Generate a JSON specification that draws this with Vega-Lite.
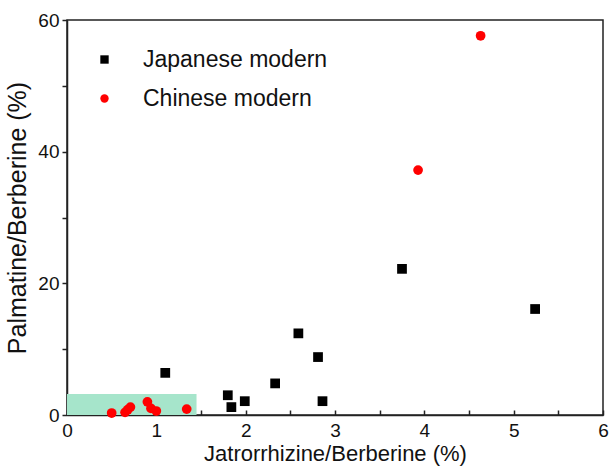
{
  "$schema": "https://vega.github.io/schema/vega-lite/v6.json",
  "width": 536,
  "height": 395,
  "autosize": {"type": "none"},
  "padding": {"left": 67, "top": 20, "right": 8, "bottom": 52},
  "background": "white",
  "config": {
    "font": "Liberation Sans",
    "view": {"stroke": "#222", "strokeWidth": 1.5},
    "axis": {"grid": false, "domainColor": "#222", "domainWidth": 1.5, "tickColor": "#222", "tickWidth": 1.5, "labelColor": "#111", "titleColor": "#111", "labelFontSize": 19, "titleFontSize": 22, "titleFontWeight": "normal", "labelFont": "Liberation Sans", "titleFont": "Liberation Sans"}
  },
  "datasets": {
    "pts": [
      {"jat": 1.10, "pal": 6.4, "group": "Japanese modern"},
      {"jat": 1.80, "pal": 3.0, "group": "Japanese modern"},
      {"jat": 1.84, "pal": 1.2, "group": "Japanese modern"},
      {"jat": 1.99, "pal": 2.1, "group": "Japanese modern"},
      {"jat": 2.33, "pal": 4.8, "group": "Japanese modern"},
      {"jat": 2.59, "pal": 12.4, "group": "Japanese modern"},
      {"jat": 2.81, "pal": 8.8, "group": "Japanese modern"},
      {"jat": 2.86, "pal": 2.1, "group": "Japanese modern"},
      {"jat": 3.75, "pal": 22.2, "group": "Japanese modern"},
      {"jat": 5.24, "pal": 16.1, "group": "Japanese modern"},
      {"jat": 0.50, "pal": 0.3, "group": "Chinese modern"},
      {"jat": 0.65, "pal": 0.4, "group": "Chinese modern"},
      {"jat": 0.68, "pal": 0.8, "group": "Chinese modern"},
      {"jat": 0.71, "pal": 1.2, "group": "Chinese modern"},
      {"jat": 0.90, "pal": 2.0, "group": "Chinese modern"},
      {"jat": 0.94, "pal": 1.0, "group": "Chinese modern"},
      {"jat": 1.00, "pal": 0.6, "group": "Chinese modern"},
      {"jat": 1.34, "pal": 0.9, "group": "Chinese modern"},
      {"jat": 3.93, "pal": 37.2, "group": "Chinese modern"},
      {"jat": 4.63, "pal": 57.6, "group": "Chinese modern"}
    ],
    "zone": [{"x0": 0, "x1": 1.45, "y0": 0, "y1": 3.2}]
  },
  "layer": [
    {
      "data": {"name": "zone"},
      "mark": {"type": "rect", "color": "#a6e5cb"},
      "encoding": {
        "x": {"field": "x0", "type": "quantitative"},
        "x2": {"field": "x1"},
        "y": {"field": "y0", "type": "quantitative"},
        "y2": {"field": "y1"}
      }
    },
    {
      "data": {"name": "pts"},
      "mark": {"type": "point", "filled": true, "opacity": 1, "size": 95},
      "encoding": {
        "x": {
          "field": "jat", "type": "quantitative",
          "scale": {"domain": [0, 6], "nice": false, "zero": false},
          "axis": {"title": "Jatrorrhizine/Berberine (%)", "values": [0, 0.5, 1, 1.5, 2, 2.5, 3, 3.5, 4, 4.5, 5, 5.5, 6], "labelExpr": "datum.value % 1 == 0 ? format(datum.value, 'd') : ''", "tickSize": -5, "labelPadding": 11, "titlePadding": 3, "labelFlush": false}
        },
        "y": {
          "field": "pal", "type": "quantitative",
          "scale": {"domain": [0, 60], "nice": false},
          "axis": {"title": "Palmatine/Berberine (%)", "titleFontSize": 25, "values": [0, 10, 20, 30, 40, 50, 60], "labelExpr": "datum.value % 20 == 0 ? format(datum.value, 'd') : ''", "tickSize": 5, "labelPadding": 3, "titlePadding": 7, "labelFlush": false}
        },
        "color": {
          "field": "group", "type": "nominal",
          "scale": {"domain": ["Japanese modern", "Chinese modern"], "range": ["#000000", "#ff0000"]},
          "legend": {"title": null, "orient": "none", "legendX": 26, "legendY": 28, "labelFontSize": 23, "labelLimit": 0, "labelColor": "#111", "symbolSize": 70, "labelOffset": 27, "rowPadding": 15, "symbolStrokeWidth": 0}
        },
        "shape": {
          "field": "group", "type": "nominal",
          "scale": {"domain": ["Japanese modern", "Chinese modern"], "range": ["square", "circle"]}
        }
      }
    }
  ]
}
